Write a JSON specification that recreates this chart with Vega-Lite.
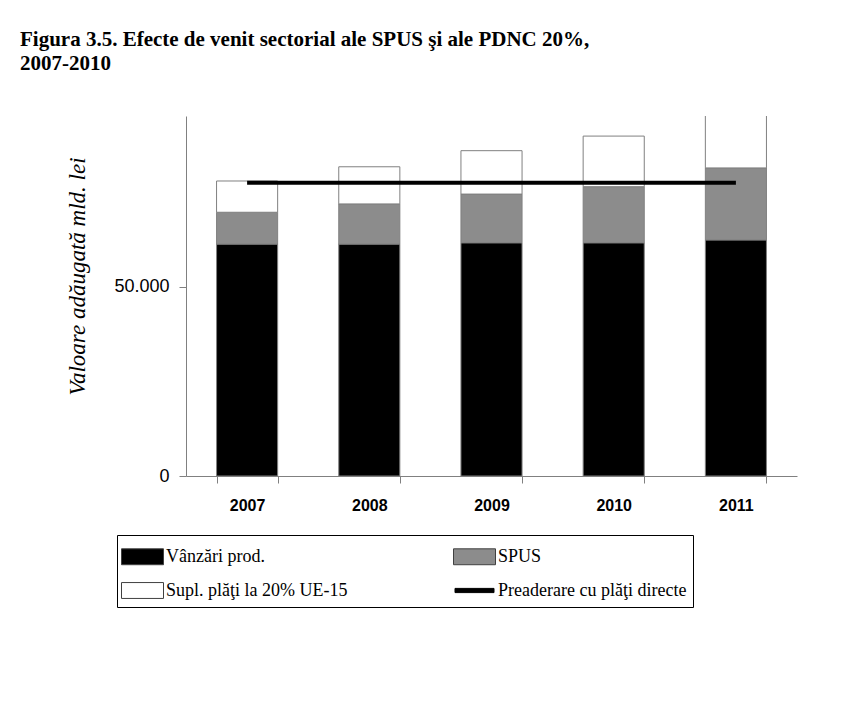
{
  "$schema": "https://vega.github.io/schema/vega-lite/v6.json",
  "autosize": {"type": "none"},
  "width": 611,
  "height": 360,
  "padding": {"left": 186, "top": 116, "right": 52, "bottom": 226},
  "background": "white",
  "config": {"view": {"stroke": null}},
  "title": {
    "text": ["Figura 3.5. Efecte de venit sectorial ale SPUS şi ale PDNC 20%,", "2007-2010"],
    "font": "Liberation Serif",
    "fontSize": 21,
    "fontWeight": "bold",
    "color": "black",
    "anchor": "start",
    "frame": "group",
    "dx": -166,
    "offset": 42,
    "lineHeight": 24
  },
  "datasets": {
    "bars": [
      {"year": "2007", "series": "Vânzări prod.", "ord": 1, "value": 61200},
      {"year": "2007", "series": "SPUS", "ord": 2, "value": 8400},
      {"year": "2007", "series": "Supl. plăţi la 20% UE-15", "ord": 3, "value": 8250},
      {"year": "2008", "series": "Vânzări prod.", "ord": 1, "value": 61200},
      {"year": "2008", "series": "SPUS", "ord": 2, "value": 10600},
      {"year": "2008", "series": "Supl. plăţi la 20% UE-15", "ord": 3, "value": 9800},
      {"year": "2009", "series": "Vânzări prod.", "ord": 1, "value": 61550},
      {"year": "2009", "series": "SPUS", "ord": 2, "value": 12850},
      {"year": "2009", "series": "Supl. plăţi la 20% UE-15", "ord": 3, "value": 11450},
      {"year": "2010", "series": "Vânzări prod.", "ord": 1, "value": 61550},
      {"year": "2010", "series": "SPUS", "ord": 2, "value": 14800},
      {"year": "2010", "series": "Supl. plăţi la 20% UE-15", "ord": 3, "value": 13350},
      {"year": "2011", "series": "Vânzări prod.", "ord": 1, "value": 62300},
      {"year": "2011", "series": "SPUS", "ord": 2, "value": 19000},
      {"year": "2011", "series": "Supl. plăţi la 20% UE-15", "ord": 3, "value": 14000}
    ],
    "line": [
      {"year": "2007", "series": "Preaderare cu plăţi directe", "value": 77400},
      {"year": "2008", "series": "Preaderare cu plăţi directe", "value": 77400},
      {"year": "2009", "series": "Preaderare cu plăţi directe", "value": 77400},
      {"year": "2010", "series": "Preaderare cu plăţi directe", "value": 77400},
      {"year": "2011", "series": "Preaderare cu plăţi directe", "value": 77400}
    ]
  },
  "encoding": {
    "x": {
      "field": "year",
      "type": "ordinal",
      "scale": {"paddingInner": 0.5, "paddingOuter": 0.25},
      "axis": {
        "title": null,
        "labelAngle": 0,
        "labelFont": "Liberation Sans",
        "labelFontSize": 16,
        "labelFontWeight": "bold",
        "labelColor": "black",
        "labelPadding": 14,
        "tickBand": "extent",
        "tickSize": 7,
        "tickColor": "#808080",
        "domainColor": "#808080"
      }
    },
    "y": {
      "field": "value",
      "type": "quantitative",
      "stack": "zero",
      "scale": {"domain": [0, 95000], "nice": false},
      "axis": {
        "title": "Valoare adăugată mld. lei",
        "titleFont": "Liberation Serif",
        "titleFontSize": 23,
        "titleFontStyle": "italic",
        "titleFontWeight": "normal",
        "titleColor": "black",
        "titlePadding": 24,
        "titleY": 160,
        "values": [0, 50000],
        "labelExpr": "datum.value === 0 ? '0' : replace(format(datum.value, ','), ',', '.')",
        "labelFont": "Liberation Sans",
        "labelFontSize": 18,
        "labelColor": "black",
        "labelPadding": 10,
        "tickSize": 7,
        "tickColor": "#808080",
        "domainColor": "#808080",
        "grid": false
      }
    },
    "fill": {
      "field": "series",
      "type": "nominal",
      "scale": {
        "domain": ["Vânzări prod.", "Supl. plăţi la 20% UE-15", "SPUS", "Preaderare cu plăţi directe"],
        "range": ["#000000", "#ffffff", "#8c8c8c", "#000000"]
      },
      "legend": {
        "title": null,
        "orient": "none",
        "legendX": -69,
        "legendY": 419,
        "columns": 2,
        "columnPadding": 103,
        "rowPadding": 8,
        "padding": 6,
        "strokeColor": "black",
        "fillColor": "white",
        "labelFont": "Liberation Serif",
        "labelFontSize": 18,
        "labelColor": "black",
        "labelLimit": 500,
        "symbolSize": 900,
        "symbolType": "M-1.4,-0.53H1.4V0.53H-1.4Z",
        "symbolStrokeColor": "#404040",
        "symbolStrokeWidth": 1,
        "labelOffset": 8,
        "symbolOffset": 4,
        "encode": {
          "symbols": {
            "update": {
              "shape": {"signal": "datum.value === 'Preaderare cu plăţi directe' ? 'M-1.3,-0.14H1.3V0.14H-1.3Z' : 'M-1.4,-0.53H1.4V0.53H-1.4Z'"},
              "stroke": {"signal": "datum.value === 'Preaderare cu plăţi directe' ? '#000000' : '#404040'"},
              "strokeWidth": {"value": 1},
              "strokeOpacity": {"value": 1},
              "fillOpacity": {"value": 1}
            }
          }
        }
      }
    }
  },
  "layer": [
    {
      "data": {"name": "bars"},
      "mark": {"type": "bar", "stroke": "#808080", "strokeWidth": 1, "clip": true},
      "encoding": {
        "order": {"field": "ord", "type": "quantitative"}
      }
    },
    {
      "data": {"name": "line"},
      "mark": {"type": "line", "strokeWidth": 4, "stroke": "black"}
    }
  ]
}
